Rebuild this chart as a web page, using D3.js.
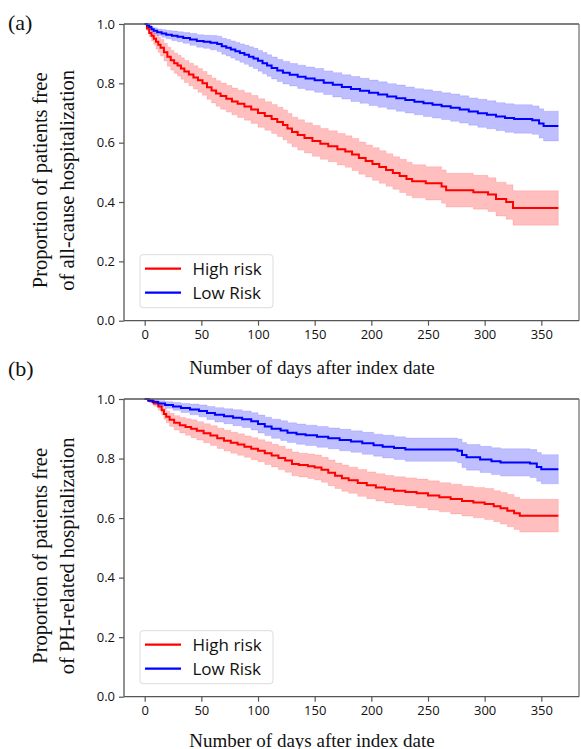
<!DOCTYPE html>
<html>
<head>
<meta charset="utf-8">
<script src="https://cdn.jsdelivr.net/npm/d3@7/dist/d3.min.js"></script>
<style>
  html, body { margin: 0; padding: 0; background: #fff; }
  svg { display: block; }
</style>
</head>
<body>
<svg id="chart" width="581" height="749"></svg>
<script>
// ---------------- DATA (day, estimate, lower CI, upper CI) ----------------
const xTicks = [0, 50, 100, 150, 200, 250, 300, 350];
const yTicks = [0.0, 0.2, 0.4, 0.6, 0.8, 1.0];
const seriesNames = ["High risk", "Low Risk"];
const panelLabels = ["(a)", "(b)"];
const yLabelLines = [
  ["Proportion of patients free", "of all-cause hospitalization"],
  ["Proportion of patients free", "of PH-related hospitalization"]
];
const xLabel = "Number of days after index date";

const allCauseHigh = [
  [0,1.0,1.0,1.0],[2,0.985,0.977,0.993],[4,0.97,0.957,0.983],[6,0.96,0.943,0.977],
  [8,0.95,0.93,0.97],[10,0.94,0.916,0.964],[12,0.93,0.904,0.956],[14,0.92,0.892,0.948],
  [17,0.905,0.875,0.935],[20,0.89,0.858,0.922],[23,0.878,0.845,0.911],[26,0.868,0.834,0.902],
  [29,0.86,0.825,0.895],[32,0.85,0.814,0.886],[35,0.84,0.803,0.877],[39,0.83,0.792,0.868],
  [43,0.82,0.781,0.859],[47,0.81,0.77,0.85],[51,0.80,0.76,0.84],[55,0.787,0.746,0.828],
  [59,0.776,0.734,0.818],[63,0.766,0.723,0.809],[67,0.757,0.713,0.801],[72,0.748,0.703,0.793],
  [77,0.739,0.694,0.784],[82,0.731,0.685,0.777],[88,0.722,0.676,0.768],[94,0.712,0.665,0.759],
  [100,0.70,0.652,0.748],[106,0.69,0.642,0.738],[112,0.68,0.631,0.729],[117,0.67,0.621,0.719],
  [122,0.66,0.61,0.71],[126,0.648,0.598,0.698],[130,0.636,0.586,0.686],[135,0.626,0.575,0.677],
  [141,0.616,0.565,0.667],[148,0.606,0.554,0.658],[155,0.596,0.544,0.648],[162,0.588,0.536,0.64],
  [170,0.578,0.525,0.631],[177,0.57,0.517,0.623],[183,0.56,0.506,0.614],[189,0.548,0.494,0.602],
  [195,0.538,0.484,0.592],[201,0.528,0.473,0.583],[207,0.518,0.463,0.573],[213,0.508,0.453,0.563],
  [219,0.498,0.443,0.553],[225,0.488,0.432,0.544],[231,0.478,0.422,0.534],[236,0.47,0.414,0.526],
  [248,0.463,0.407,0.519],[262,0.452,0.396,0.508],[266,0.44,0.383,0.497],[290,0.433,0.376,0.49],
  [303,0.425,0.368,0.482],[310,0.41,0.353,0.467],[319,0.40,0.342,0.458],[325,0.38,0.322,0.438],
  [365,0.38,0.322,0.438]
];

const allCauseLow = [
  [0,1.0,1.0,1.0],[2,0.995,0.991,0.999],[4,0.99,0.984,0.996],[6,0.982,0.974,0.99],
  [8,0.977,0.967,0.987],[11,0.972,0.961,0.983],[15,0.968,0.955,0.981],[19,0.964,0.95,0.978],
  [24,0.96,0.944,0.976],[29,0.957,0.94,0.974],[34,0.953,0.935,0.971],[40,0.948,0.928,0.968],
  [46,0.943,0.922,0.964],[52,0.94,0.918,0.962],[58,0.937,0.913,0.961],[64,0.933,0.907,0.959],
  [68,0.925,0.898,0.952],[72,0.92,0.892,0.948],[76,0.914,0.885,0.943],[80,0.908,0.878,0.938],
  [84,0.902,0.871,0.933],[88,0.896,0.864,0.928],[92,0.89,0.857,0.923],[96,0.884,0.85,0.918],
  [100,0.876,0.841,0.911],[104,0.868,0.832,0.904],[108,0.86,0.824,0.896],[112,0.852,0.815,0.889],
  [117,0.843,0.806,0.88],[122,0.836,0.798,0.874],[128,0.829,0.791,0.867],[135,0.822,0.783,0.861],
  [142,0.816,0.777,0.855],[150,0.81,0.77,0.85],[158,0.802,0.762,0.842],[166,0.795,0.754,0.836],
  [174,0.788,0.747,0.829],[182,0.781,0.739,0.823],[190,0.775,0.733,0.817],[198,0.768,0.725,0.811],
  [206,0.762,0.719,0.805],[214,0.756,0.713,0.799],[222,0.75,0.706,0.794],[230,0.744,0.70,0.788],
  [238,0.738,0.694,0.782],[246,0.733,0.688,0.778],[254,0.728,0.683,0.773],[262,0.723,0.678,0.768],
  [270,0.718,0.672,0.764],[278,0.712,0.666,0.758],[286,0.705,0.659,0.751],[294,0.699,0.652,0.746],
  [302,0.694,0.647,0.741],[310,0.688,0.641,0.735],[318,0.683,0.635,0.731],[326,0.68,0.632,0.728],
  [342,0.676,0.628,0.724],[348,0.665,0.616,0.714],[352,0.656,0.606,0.706],[365,0.656,0.606,0.706]
];

const phHigh = [
  [0,1.0,1.0,1.0],[4,0.993,0.987,0.999],[8,0.985,0.976,0.994],[12,0.975,0.962,0.988],
  [15,0.962,0.946,0.978],[17,0.95,0.932,0.968],[19,0.94,0.92,0.96],[22,0.93,0.908,0.952],
  [26,0.92,0.896,0.944],[31,0.912,0.886,0.938],[36,0.906,0.878,0.934],[41,0.90,0.87,0.93],
  [46,0.893,0.862,0.924],[52,0.885,0.853,0.917],[58,0.877,0.844,0.91],[64,0.868,0.834,0.902],
  [70,0.86,0.825,0.895],[76,0.853,0.818,0.888],[82,0.847,0.811,0.883],[88,0.84,0.804,0.876],
  [94,0.833,0.796,0.87],[100,0.826,0.789,0.863],[106,0.818,0.78,0.856],[112,0.81,0.772,0.848],
  [118,0.802,0.763,0.841],[124,0.793,0.754,0.832],[130,0.782,0.742,0.822],[136,0.778,0.738,0.818],
  [144,0.774,0.733,0.815],[150,0.77,0.728,0.812],[156,0.762,0.72,0.804],[162,0.752,0.709,0.795],
  [168,0.742,0.699,0.785],[174,0.734,0.69,0.778],[180,0.727,0.683,0.771],[188,0.718,0.673,0.763],
  [196,0.71,0.665,0.755],[204,0.703,0.657,0.749],[212,0.697,0.651,0.743],[220,0.692,0.645,0.739],
  [230,0.688,0.641,0.735],[240,0.683,0.635,0.731],[250,0.676,0.627,0.725],[260,0.67,0.621,0.719],
  [270,0.664,0.614,0.714],[280,0.657,0.607,0.707],[290,0.652,0.601,0.703],[300,0.647,0.595,0.699],
  [308,0.64,0.588,0.692],[314,0.633,0.58,0.686],[320,0.625,0.571,0.679],[326,0.616,0.562,0.67],
  [331,0.608,0.553,0.663],[365,0.608,0.553,0.663]
];

const phLow = [
  [0,1.0,1.0,1.0],[3,0.995,0.991,0.999],[7,0.99,0.984,0.996],[12,0.985,0.976,0.994],
  [18,0.98,0.969,0.991],[25,0.975,0.962,0.988],[32,0.97,0.955,0.985],[40,0.965,0.947,0.983],
  [48,0.96,0.94,0.98],[55,0.953,0.931,0.975],[62,0.947,0.923,0.971],[70,0.942,0.917,0.967],
  [78,0.937,0.91,0.964],[86,0.932,0.904,0.96],[94,0.925,0.896,0.954],[100,0.916,0.886,0.946],
  [106,0.908,0.877,0.939],[112,0.90,0.868,0.932],[120,0.894,0.861,0.927],[126,0.887,0.854,0.92],
  [134,0.882,0.848,0.916],[142,0.878,0.844,0.912],[152,0.873,0.838,0.908],[162,0.868,0.833,0.903],
  [172,0.862,0.826,0.898],[182,0.857,0.821,0.893],[192,0.851,0.814,0.888],[202,0.845,0.808,0.882],
  [210,0.84,0.802,0.878],[220,0.835,0.797,0.873],[230,0.83,0.791,0.869],[276,0.826,0.786,0.866],
  [280,0.812,0.77,0.854],[284,0.804,0.761,0.847],[296,0.797,0.753,0.841],[306,0.791,0.746,0.836],
  [314,0.787,0.741,0.833],[340,0.783,0.736,0.83],[346,0.772,0.724,0.82],[350,0.764,0.715,0.813],
  [365,0.764,0.715,0.813]
];

// ---------------- DRAWING ----------------
const colors = ["#ff0000", "#0000ff"];
const svg = d3.select("#chart");
svg.append("rect").attr("width", 581).attr("height", 749).attr("fill", "#fff");

const tickFont = "'Open Sans', 'Noto Sans', sans-serif";
const serifFont = "'Liberation Serif', 'DejaVu Serif', serif";

const panels = [
  { top: 24, bottom: 320.7, data: [allCauseHigh, allCauseLow], tag: panelLabels[0], tagY: 22, yl: yLabelLines[0], xlY: 367.5 },
  { top: 399, bottom: 696.7, data: [phHigh, phLow], tag: panelLabels[1], tagY: 368, yl: yLabelLines[1], xlY: 740 }
];

const left = 124, right = 579;
const x = d3.scaleLinear().domain([-18.25, 383.25]).range([left, right]);

panels.forEach(p => {
  const y = d3.scaleLinear().domain([0, 1]).range([p.bottom, p.top]);
  const g = svg.append("g");

  // confidence bands
  p.data.forEach((s, i) => {
    const area = d3.area()
      .curve(d3.curveStepAfter)
      .x(d => x(d[0]))
      .y0(d => y(d[2]))
      .y1(d => y(d[3]));
    g.append("path").datum(s).attr("d", area)
      .attr("fill", colors[i]).attr("fill-opacity", 0.25)
      .attr("stroke", colors[i]).attr("stroke-opacity", 0.12).attr("stroke-width", 1);
  });
  // survival curves
  p.data.forEach((s, i) => {
    const line = d3.line()
      .curve(d3.curveStepAfter)
      .x(d => x(d[0]))
      .y(d => y(d[1]));
    g.append("path").datum(s).attr("d", line)
      .attr("fill", "none").attr("stroke", colors[i]).attr("stroke-width", 2);
  });

  // frame (top/right spines)
  g.append("line").attr("x1", left).attr("x2", right).attr("y1", p.top).attr("y2", p.top)
    .attr("stroke", "#555").attr("stroke-width", 1.3);
  g.append("line").attr("x1", right).attr("x2", right).attr("y1", p.top).attr("y2", p.bottom)
    .attr("stroke", "#777").attr("stroke-width", 1.3);

  // axes
  const xAxis = d3.axisBottom(x).tickValues(xTicks).tickSize(5).tickPadding(4).tickFormat(d3.format("d"));
  const yAxis = d3.axisLeft(y).tickValues(yTicks).tickSize(5).tickPadding(4).tickFormat(d3.format(".1f"));
  const gx = g.append("g").attr("transform", `translate(0,${p.bottom})`).call(xAxis);
  const gy = g.append("g").attr("transform", `translate(${left},0)`).call(yAxis);
  [gx, gy].forEach(a => {
    a.select(".domain").attr("stroke", "#555").attr("stroke-width", 1.3);
    a.selectAll(".tick line").attr("stroke", "#555").attr("stroke-width", 1.2);
    a.selectAll(".tick text").attr("fill", "#111")
      .style("font-family", tickFont).style("font-size", "13px");
  });
  gx.select(".domain").attr("d", `M${left},0H${right}`);
  gy.select(".domain").attr("d", `M0,${p.bottom}V${p.top}`);

  // x label
  g.append("text").attr("x", 312).attr("y", p.xlY).attr("text-anchor", "middle")
    .attr("dominant-baseline", "central")
    .style("font-family", serifFont).style("font-size", "19px").attr("fill", "#111")
    .text(xLabel);

  // y label (two lines)
  const cy = (p.top + p.bottom) / 2 + 8;
  [40, 67].forEach((lx, k) => {
    g.append("text").attr("transform", `translate(${lx},${cy}) rotate(-90)`)
      .attr("text-anchor", "middle").attr("dominant-baseline", "central")
      .style("font-family", serifFont).style("font-size", "20.5px").attr("fill", "#111")
      .text(p.yl[k]);
  });

  // panel tag
  g.append("text").attr("x", 8).attr("y", p.tagY).attr("dominant-baseline", "central")
    .style("font-family", serifFont).style("font-size", "22px").attr("fill", "#111")
    .text(p.tag);

  // legend
  const lg = g.append("g");
  lg.append("rect").attr("x", 140).attr("y", p.bottom - 66).attr("width", 133).attr("height", 53)
    .attr("rx", 3).attr("fill", "#fff").attr("fill-opacity", 0.8)
    .attr("stroke", "#dcdcdc").attr("stroke-width", 1);
  seriesNames.forEach((name, i) => {
    const ly = p.bottom - 52 + i * 24;
    lg.append("line").attr("x1", 145).attr("x2", 181).attr("y1", ly).attr("y2", ly)
      .attr("stroke", colors[i]).attr("stroke-width", 2.2);
    lg.append("text").attr("x", 192.5).attr("y", ly).attr("dominant-baseline", "central")
      .style("font-family", tickFont).style("font-size", "17px").attr("fill", "#111")
      .text(name);
  });
});
</script>
</body>
</html>
